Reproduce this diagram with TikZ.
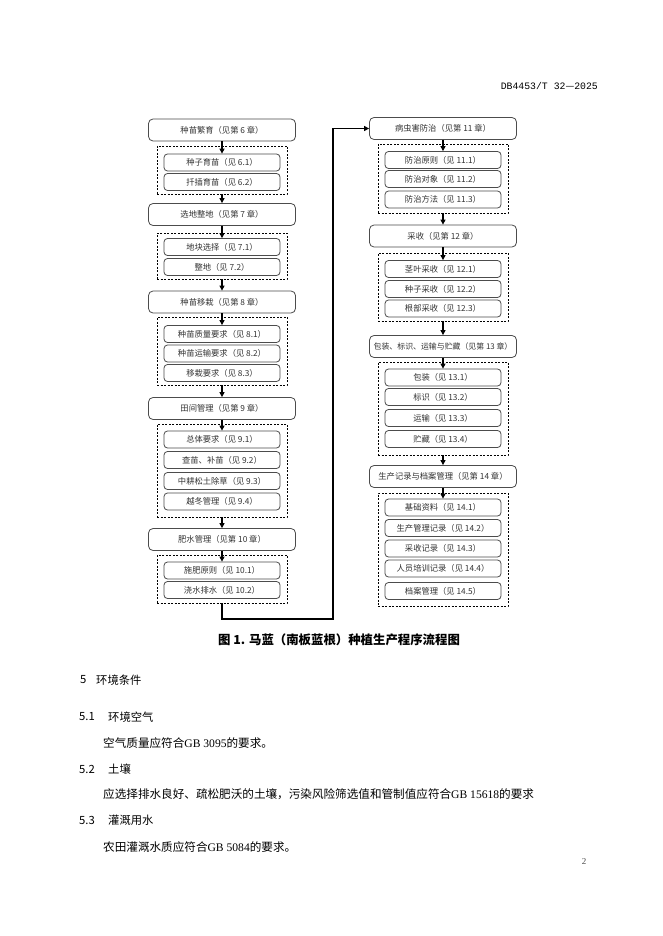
\documentclass[tikz,border=0pt]{standalone}
\usepackage{fontspec}
\setmainfont{Liberation Serif}
\newfontfamily\cjk{Noto Sans CJK SC}
\newfontfamily\monof{Liberation Mono}
\usetikzlibrary{arrows.meta}
\begin{document}
\begin{tikzpicture}[x=1pt,y=-1pt,
  chap/.style={draw=black!70, line width=0.8pt, rounded corners=4.5pt, minimum width=147pt, minimum height=22pt, inner sep=0pt, font=\cjk\fontsize{8.3}{10}\selectfont, text=black!80},
  sub/.style={draw=black!70, line width=0.8pt, rounded corners=3.5pt, minimum width=116pt, minimum height=17pt, inner sep=0pt, font=\cjk\fontsize{8.3}{10}\selectfont, text=black!80},
  grp/.style={draw=black, line width=0.8pt, dash pattern=on 2pt off 1.5pt, minimum width=130pt, inner sep=0pt},
  arr/.style={-{Triangle[length=5pt,width=5pt]}, line width=1.1pt},
  head/.style={anchor=west, inner sep=0pt, font=\cjk\fontsize{11.3}{13}\selectfont},
  body/.style={anchor=west, inner sep=0pt, font=\fontsize{11.6}{13}\selectfont},
]
\fill[white] (0,0) rectangle (662,936);
\path[use as bounding box] (0,0) rectangle (662,936);

% header
\node[anchor=east, inner sep=0pt, font=\monof\fontsize{9.8}{11}\selectfont] (hdr) at (598,86) {DB4453/T 32{\cjk —}2025};

% ---------- left column ----------
\node[chap] (c6) at (222,130) {种苗繁育（见第 6 章）};
\node[grp, minimum height=48pt] (g6) at (222,170) {};
\node[sub] (s61) at (222,162.5) {种子育苗（见 6.1）};
\node[sub] (s62) at (222,182) {扦插育苗（见 6.2）};

\node[chap] (c7) at (222,214.5) {选地整地（见第 7 章）};
\node[grp, minimum height=46pt] (g7) at (222,256) {};
\node[sub] (s71) at (222,247) {地块选择（见 7.1）};
\node[sub] (s72) at (222,267) {整地（见 7.2）};

\node[chap] (c8) at (222,302) {种苗移栽（见第 8 章）};
\node[grp, minimum height=68pt] (g8) at (222,351) {};
\node[sub] (s81) at (222,334) {种苗质量要求（见 8.1）};
\node[sub] (s82) at (222,353.5) {种苗运输要求（见 8.2）};
\node[sub] (s83) at (222,373) {移栽要求（见 8.3）};

\node[chap] (c9) at (222,408.5) {田间管理（见第 9 章）};
\node[grp, minimum height=93pt] (g9) at (222,470.5) {};
\node[sub] (s91) at (222,439.5) {总体要求（见 9.1）};
\node[sub] (s92) at (222,460) {查苗、补苗（见 9.2）};
\node[sub] (s93) at (222,481) {中耕松土除草（见 9.3）};
\node[sub] (s94) at (222,501.5) {越冬管理（见 9.4）};

\node[chap] (c10) at (222,539.5) {肥水管理（见第 10 章）};
\node[grp, minimum height=48pt] (g10) at (222,579) {};
\node[sub] (s101) at (222,570.5) {施肥原则（见 10.1）};
\node[sub] (s102) at (222,590) {浇水排水（见 10.2）};

% ---------- right column ----------
\node[chap] (c11) at (443,128.5) {病虫害防治（见第 11 章）};
\node[grp, minimum height=69pt] (g11) at (443,178.5) {};
\node[sub] (s111) at (443,160) {防治原则（见 11.1）};
\node[sub] (s112) at (443,179) {防治对象（见 11.2）};
\node[sub] (s113) at (443,199.5) {防治方法（见 11.3）};

\node[chap] (c12) at (443,236) {采收（见第 12 章）};
\node[grp, minimum height=68pt] (g12) at (443,287) {};
\node[sub] (s121) at (443,269) {茎叶采收（见 12.1）};
\node[sub] (s122) at (443,289) {种子采收（见 12.2）};
\node[sub] (s123) at (443,308.5) {根部采收（见 12.3）};

\node[chap, font=\cjk\fontsize{7.9}{10}\selectfont] (c13) at (443,346.5) {包装、标识、运输与贮藏（见第 13 章）};
\node[grp, minimum height=93pt] (g13) at (443,408.5) {};
\node[sub] (s131) at (443,377.5) {包装（见 13.1）};
\node[sub] (s132) at (443,397) {标识（见 13.2）};
\node[sub] (s133) at (443,418) {运输（见 13.3）};
\node[sub] (s134) at (443,439) {贮藏（见 13.4）};

\node[chap] (c14) at (443,476.5) {生产记录与档案管理（见第 14 章）};
\node[grp, minimum height=113pt] (g14) at (443,549.5) {};
\node[sub] (s141) at (443,507.5) {基础资料（见 14.1）};
\node[sub] (s142) at (443,528) {生产管理记录（见 14.2）};
\node[sub] (s143) at (443,548.5) {采收记录（见 14.3）};
\node[sub] (s144) at (443,568.5) {人员培训记录（见 14.4）};
\node[sub] (s145) at (443,591) {档案管理（见 14.5）};

% ---------- arrows ----------
\draw[arr] (c6.south) -- (s61.north);
\draw[arr] (g6.south) -- (c7.north);
\draw[arr] (c7.south) -- (s71.north);
\draw[arr] (g7.south) -- (c8.north);
\draw[arr] (c8.south) -- (s81.north);
\draw[arr] (g8.south) -- (c9.north);
\draw[arr] (c9.south) -- (s91.north);
\draw[arr] (g9.south) -- (c10.north);
\draw[arr] (c10.south) -- (s101.north);

\coordinate (k1) at (333,619);
\draw[arr] (g10.south) |- (k1) |- (c11.west);

\draw[arr] (c11.south) -- (s111.north);
\draw[arr] (g11.south) -- (c12.north);
\draw[arr] (c12.south) -- (s121.north);
\draw[arr] (g12.south) -- (c13.north);
\draw[arr] (c13.south) -- (s131.north);
\draw[arr] (g13.south) -- (c14.north);
\draw[arr] (c14.south) -- (s141.north);

% caption
\node[anchor=west, inner sep=0pt, font=\cjk\bfseries\fontsize{12.4}{14}\selectfont] (cap) at (218,640) {图 1. 马蓝（南板蓝根）种植生产程序流程图};

% ---------- text ----------
\node[head] (n5) at (80,680) {5};
\node[head] (t5) at (96,680) {环境条件};
\node[head] (n51) at (79,717) {5.1};
\node[head] (t51) at (108,717) {环境空气};
\node[body] (b51) at (103,743) {{\cjk 空气质量应符合}GB 3095{\cjk 的要求。}};
\node[head] (n52) at (79,769) {5.2};
\node[head] (t52) at (108,769) {土壤};
\node[body] (b52) at (103,794) {{\cjk 应选择排水良好、疏松肥沃的土壤，污染风险筛选值和管制值应符合}GB 15618{\cjk 的要求}};
\node[head] (n53) at (79,820) {5.3};
\node[head] (t53) at (108,820) {灌溉用水};
\node[body] (b53) at (103,847) {{\cjk 农田灌溉水质应符合}GB 5084{\cjk 的要求。}};

\node[anchor=center, inner sep=0pt, font=\fontsize{9}{10}\selectfont, text=black!70] (pg) at (584,862) {2};
\end{tikzpicture}
\end{document}
